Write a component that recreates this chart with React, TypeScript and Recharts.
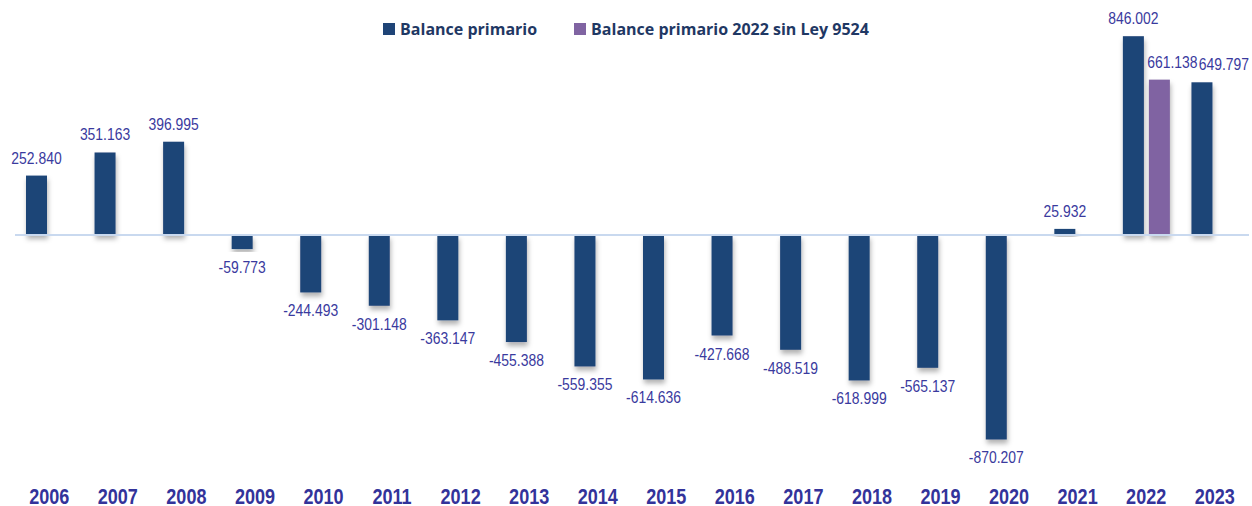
import React from 'react';
import { BarChart, Bar, XAxis, YAxis, ReferenceLine, LabelList, Legend } from 'recharts';

const years = [
  '2006', '2007', '2008', '2009', '2010', '2011', '2012', '2013', '2014',
  '2015', '2016', '2017', '2018', '2019', '2020', '2021', '2022', '2023',
];

const balancePrimario = [
  252.84, 351.163, 396.995, -59.773, -244.493, -301.148, -363.147, -455.388, -559.355,
  -614.636, -427.668, -488.519, -618.999, -565.137, -870.207, 25.932, 846.002, 649.797,
];

const balanceSinLey: (number | null)[] = [
  null, null, null, null, null, null, null, null, null,
  null, null, null, null, null, null, null, 661.138, null,
];

const seriesNames = ['Balance primario', 'Balance primario 2022 sin Ley 9524'];

const data = years.map((year, i) => ({
  year,
  balance: balancePrimario[i],
  sinLey: balanceSinLey[i],
}));

const DARK = '#1f4477';
const PURPLE = '#8064a2';
const LABEL = '#3a3a9e';
// no Arial Narrow here, so squeeze Liberation Sans horizontally instead
const FONT = "'Liberation Sans', Arial, sans-serif";
const SQUEEZE = 0.82;

const ShadowBar = (props: any) => {
  const { x, y, width, height, fill } = props;
  const top = Math.min(y, y + height);
  const h = Math.abs(height);
  return <rect x={x} y={top} width={width} height={h} fill={fill} filter="url(#barShadow)" />;
};

// the 2022/2023 labels were pushed right in the original so they don't collide
const makeLabel = (nudge: (index: number) => number) => (props: any) => {
  const { value, index } = props;
  if (value === null || value === undefined) return null;
  const vb = props.viewBox ?? props;
  const { x, y, width, height } = vb;
  const top = Math.min(y, y + height);
  const bottom = Math.max(y, y + height);
  const cx = x + width / 2 + nudge(index);
  const ty = value >= 0 ? top - 12 : bottom + 24;
  return (
    <text
      transform={`translate(${cx},${ty}) scale(${SQUEEZE},1)`}
      textAnchor="middle"
      fill={LABEL}
      fontSize={17}
      fontFamily={FONT}
    >
      {Number(value).toFixed(3)}
    </text>
  );
};

const YearTick = (props: any) => {
  const { x, y, payload } = props;
  return (
    <g transform={`translate(${x},${y}) scale(${SQUEEZE},1)`}>
      <text textAnchor="middle" dy="0.71em" fill="#33339a" fontSize={22} fontWeight={700} fontFamily={FONT}>
        {payload.value}
      </text>
    </g>
  );
};

const renderLegend = () => (
  <div
    style={{
      display: 'flex',
      justifyContent: 'center',
      alignItems: 'center',
      fontFamily: "'Open Sans', sans-serif",
      fontWeight: 700,
      fontSize: 16,
      color: '#1f3864',
      lineHeight: '20px',
    }}
  >
    {seriesNames.map((name, i) => (
      <div key={name} style={{ display: 'flex', alignItems: 'center', marginRight: i === 0 ? 37 : 0 }}>
        <span
          style={{
            display: 'inline-block',
            width: 12,
            height: 12,
            background: i === 0 ? DARK : PURPLE,
            marginRight: 5,
          }}
        />
        <span>{name}</span>
      </div>
    ))}
  </div>
);

export default function App() {
  return (
    <div style={{ position: 'absolute', left: 0, top: 0, background: '#fff' }}>
      <BarChart
        width={1252}
        height={506}
        data={data}
        margin={{ top: 0, right: 3, bottom: 0, left: 15 }}
        barSize={21}
        barGap={5}
      >
        <defs>
          <filter id="barShadow" x="-30%" y="-10%" width="160%" height="130%">
            <feDropShadow dx="1" dy="4" stdDeviation="2.5" floodColor="#000" floodOpacity="0.3" />
          </filter>
        </defs>
        <XAxis
          dataKey="year"
          axisLine={false}
          tickLine={false}
          height={36}
          tickMargin={12}
          interval={0}
          tick={<YearTick />}
        />
        <YAxis hide domain={[-1000, 1000]} />
        <Legend
          verticalAlign="middle"
          align="center"
          content={renderLegend}
          wrapperStyle={{ top: 19, left: 0, width: 1252 }}
        />
        <ReferenceLine y={0} stroke="#c9d9ef" strokeWidth={2} />
        <Bar dataKey="balance" name={seriesNames[0]} fill={DARK} shape={ShadowBar} isAnimationActive={false}>
          <LabelList dataKey="balance" content={makeLabel((i) => (i === 17 ? 22 : 0))} />
        </Bar>
        <Bar dataKey="sinLey" name={seriesNames[1]} fill={PURPLE} shape={ShadowBar} isAnimationActive={false}>
          <LabelList dataKey="sinLey" content={makeLabel(() => 13)} />
        </Bar>
      </BarChart>
    </div>
  );
}
